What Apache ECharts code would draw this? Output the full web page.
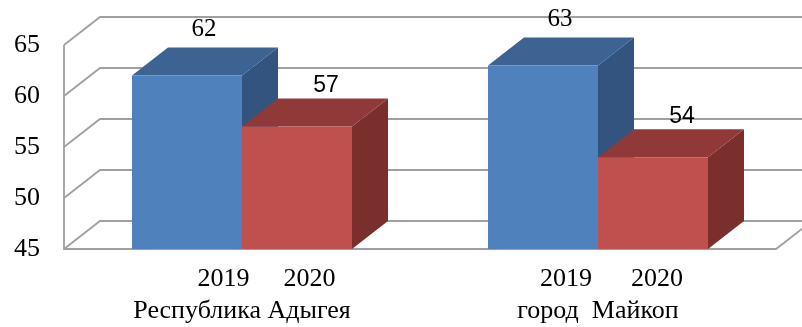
<!DOCTYPE html>
<html>
<head>
<meta charset="utf-8">
<script src="https://cdn.jsdelivr.net/npm/echarts@6/dist/echarts.min.js"></script>
<style>
  html, body { margin: 0; padding: 0; background: #fff; }
  #chart { width: 802px; height: 327px; }
</style>
</head>
<body>
<div id="chart"></div>
<script>
// Values by region and year
const categories = ['Республика Адыгея', 'город  Майкоп'];
const years = ['2019', '2020'];
const values2019 = [62, 63];
const values2020 = [57, 54];
const yTicks = [45, 50, 55, 60, 65];

// 3D look: depth offset of walls and boxes
const DX = 36;
const DY = -28;
const BAR_RATIO = 110 / 356;
const GRID_COLOR = '#a0a0a0';
const SERIF = 'Liberation Serif';
const SANS = 'Liberation Sans';

// Face colours per year: front, top, side
const faces = [
  { front: '#4f81bd', top: '#3c6391', side: '#33547e' },
  { front: '#c0504d', top: '#8f3a38', side: '#7a2f2d' }
];
// Value label styling per year
const valueLabel = [
  { family: SERIF, size: 25, dx: 17, dy: -18 },
  { family: SANS, size: 23, dx: 29, dy: -13 }
];
// Year row under each region: leading space and gap between years
const yearLead = [49, 27];
const yearGap = [34, 39];

const yMin = yTicks[0];
const yMax = yTicks[yTicks.length - 1];

function renderWalls(params, api) {
  const cs = params.coordSys;
  const left = cs.x;
  const right = cs.x + cs.width;
  const t = api.value(1);
  const y = api.coord([0, t])[1];
  const lineStyle = { stroke: GRID_COLOR, lineWidth: 1.8, fill: null };
  const children = [{
    type: 'polyline',
    shape: { points: [[left, y], [left + DX, y + DY], [right + DX + 20, y + DY]] },
    style: lineStyle
  }];
  if (t === yMin) {
    const yTop = api.coord([0, yMax])[1];
    children.push({
      type: 'polyline',
      shape: { points: [[left, yTop], [left, y], [right, y], [right + DX, y + DY]] },
      style: lineStyle
    });
  }
  return { type: 'group', children };
}

function makeBarRenderer(yearIdx) {
  return function (params, api) {
    const cat = api.value(0);
    const v = api.value(1);
    const top = api.coord([cat, v]);
    const base = api.coord([cat, yMin]);
    const bw = api.size([1, 0])[0] * BAR_RATIO;
    const x0 = yearIdx === 0 ? top[0] - bw : top[0];
    const x1 = x0 + bw;
    const ty = top[1];
    const by = base[1];
    const f = faces[yearIdx];
    const lab = valueLabel[yearIdx];
    return {
      type: 'group',
      children: [
        {
          type: 'polygon',
          shape: { points: [[x1, ty], [x1 + DX, ty + DY], [x1 + DX, by + DY], [x1, by]] },
          style: { fill: f.side }
        },
        {
          type: 'polygon',
          shape: { points: [[x0, ty], [x0 + DX, ty + DY], [x1 + DX, ty + DY], [x1, ty]] },
          style: { fill: f.top }
        },
        {
          type: 'rect',
          shape: { x: x0, y: ty, width: bw, height: by - ty },
          style: { fill: f.front }
        },
        {
          type: 'text',
          style: {
            text: String(v),
            x: (x0 + x1) / 2 + lab.dx,
            y: ty + DY + lab.dy,
            fontFamily: lab.family,
            fontSize: lab.size,
            fill: '#000',
            align: 'center',
            verticalAlign: 'middle'
          }
        }
      ]
    };
  };
}

const labelFont = { fontFamily: SERIF, fontSize: 26, color: '#000', lineHeight: 32 };
const rich = { c: Object.assign({}, labelFont) };
categories.forEach((_, i) => {
  rich['a' + i] = Object.assign({}, labelFont, { padding: [0, 0, 0, yearLead[i]] });
  rich['b' + i] = Object.assign({}, labelFont, { padding: [0, 0, 0, yearGap[i]] });
});

const chart = echarts.init(document.getElementById('chart'), null, { renderer: 'canvas' });
chart.setOption({
  animation: false,
  backgroundColor: '#fff',
  textStyle: { fontFamily: SERIF },
  grid: { left: 64, right: 26, top: 45, bottom: 78, containLabel: false },
  xAxis: {
    type: 'category',
    data: categories,
    boundaryGap: true,
    axisLine: { show: false },
    axisTick: { show: false },
    axisLabel: {
      interval: 0,
      margin: 14,
      formatter: (value, i) => `{a${i}|${years[0]}}{b${i}|${years[1]}}\n{c|${value}}`,
      rich
    }
  },
  yAxis: {
    type: 'value',
    min: yMin,
    max: yMax,
    interval: 5,
    axisLine: { show: false },
    axisTick: { show: false },
    splitLine: { show: false },
    axisLabel: {
      margin: 24,
      fontFamily: SERIF,
      fontSize: 26,
      color: '#000'
    }
  },
  series: [
    {
      type: 'custom',
      name: 'walls',
      silent: true,
      z: 1,
      renderItem: renderWalls,
      data: yTicks.map(t => [0, t])
    },
    {
      type: 'custom',
      name: years[0],
      z: 2,
      renderItem: makeBarRenderer(0),
      data: values2019.map((v, i) => [i, v])
    },
    {
      type: 'custom',
      name: years[1],
      z: 3,
      renderItem: makeBarRenderer(1),
      data: values2020.map((v, i) => [i, v])
    }
  ]
});
</script>
</body>
</html>
